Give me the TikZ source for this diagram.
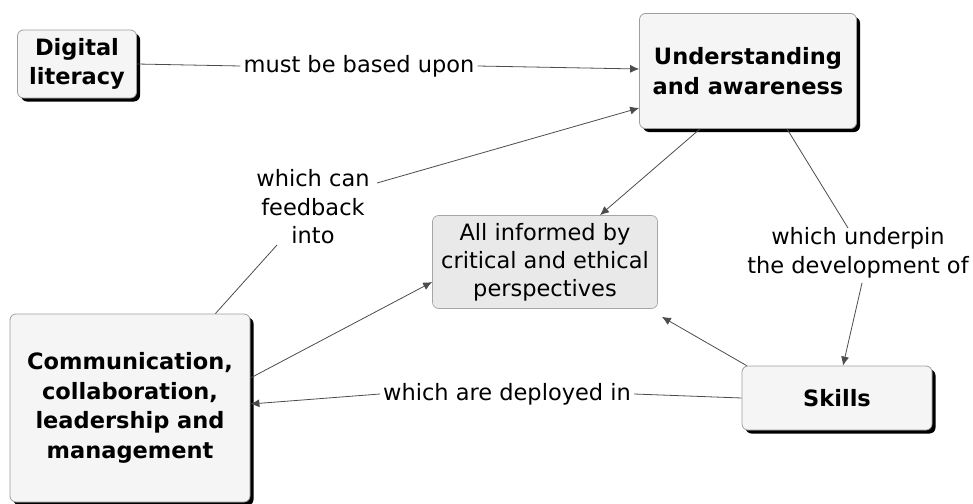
\documentclass[tikz,border=0pt]{standalone}
\usepackage{fontspec}
\setmainfont{DejaVu Sans}
\usetikzlibrary{arrows.meta,shadows}
\begin{document}
\begin{tikzpicture}[x=1pt,y=-1pt,
  concept/.style={draw=gray!75, line width=0.8pt, rounded corners=6pt, fill=gray!8,
    align=center, font=\fontsize{22.5}{29.5}\selectfont\bfseries, inner sep=0pt,
    drop shadow={shadow xshift=3.5pt, shadow yshift=-3.5pt, fill=black, opacity=1}},
  theme/.style={draw=gray!70, line width=0.7pt, rounded corners=6pt, fill=gray!17,
    align=center, font=\fontsize{22.5}{28}\selectfont, inner sep=0pt},
  phrase/.style={align=center, font=\fontsize{22.5}{28.5}\selectfont, inner sep=3pt},
  link/.style={draw=black!70, line width=0.8pt},
  arrow/.style={link, -{Latex[length=9pt,width=8pt]}}
]
\useasboundingbox (0,0) rectangle (973,503);

% concepts
\node[concept, minimum width=119, minimum height=68] (dig) at (77,64) {Digital\\literacy};
\node[concept, minimum width=217, minimum height=115] (und) at (748,71) {Understanding\\and awareness};
\node[theme, minimum width=225, minimum height=93] (info) at (545,262) {All informed by\\critical and ethical\\perspectives};
\node[concept, minimum width=240, minimum height=188] (comm) at (130,408) {Communication,\\collaboration,\\leadership and\\management};
\node[concept, minimum width=190, minimum height=64] (sk) at (837,398) {Skills};

% linking phrases
\node[phrase] (l1) at (359,66) {must be based upon};
\node[phrase] (l2) at (313,207) {which can\\feedback\\into};
\node[phrase] (l3) at (858,253) {which underpin\\the development of};
\node[phrase] (l4) at (507,394) {which are deployed in};

% propositions
\draw[link] (dig.east) -- (l1.west);
\draw[arrow] (l1.east) -- ([shift={(0,-2)}]und.west);

\draw[link] ([shift={(-35,0)}]comm.north east) -- ([shift={(-36,38)}]l2.center);
\draw[arrow] ([shift={(64,-24)}]l2.center) -- ([shift={(0,37)}]und.west);

\draw[link] ([shift={(39,0)}]und.south) -- ([shift={(-10,-25)}]l3.center);
\draw[arrow] ([shift={(4,30)}]l3.center) -- ([shift={(6,0)}]sk.north);

\draw[link] (sk.west) -- (l4.east);
\draw[arrow] (l4.west) -- ([shift={(0,-4)}]comm.east);

\draw[arrow] ([shift={(-48,0)}]und.south) -- ([shift={(55,0)}]info.north);
\draw[arrow] ([shift={(0,-30)}]comm.east) -- ([shift={(0,20)}]info.west);
\draw[arrow] ([shift={(5,0)}]sk.north west) -- ([shift={(4,8)}]info.south east);
\end{tikzpicture}
\end{document}
